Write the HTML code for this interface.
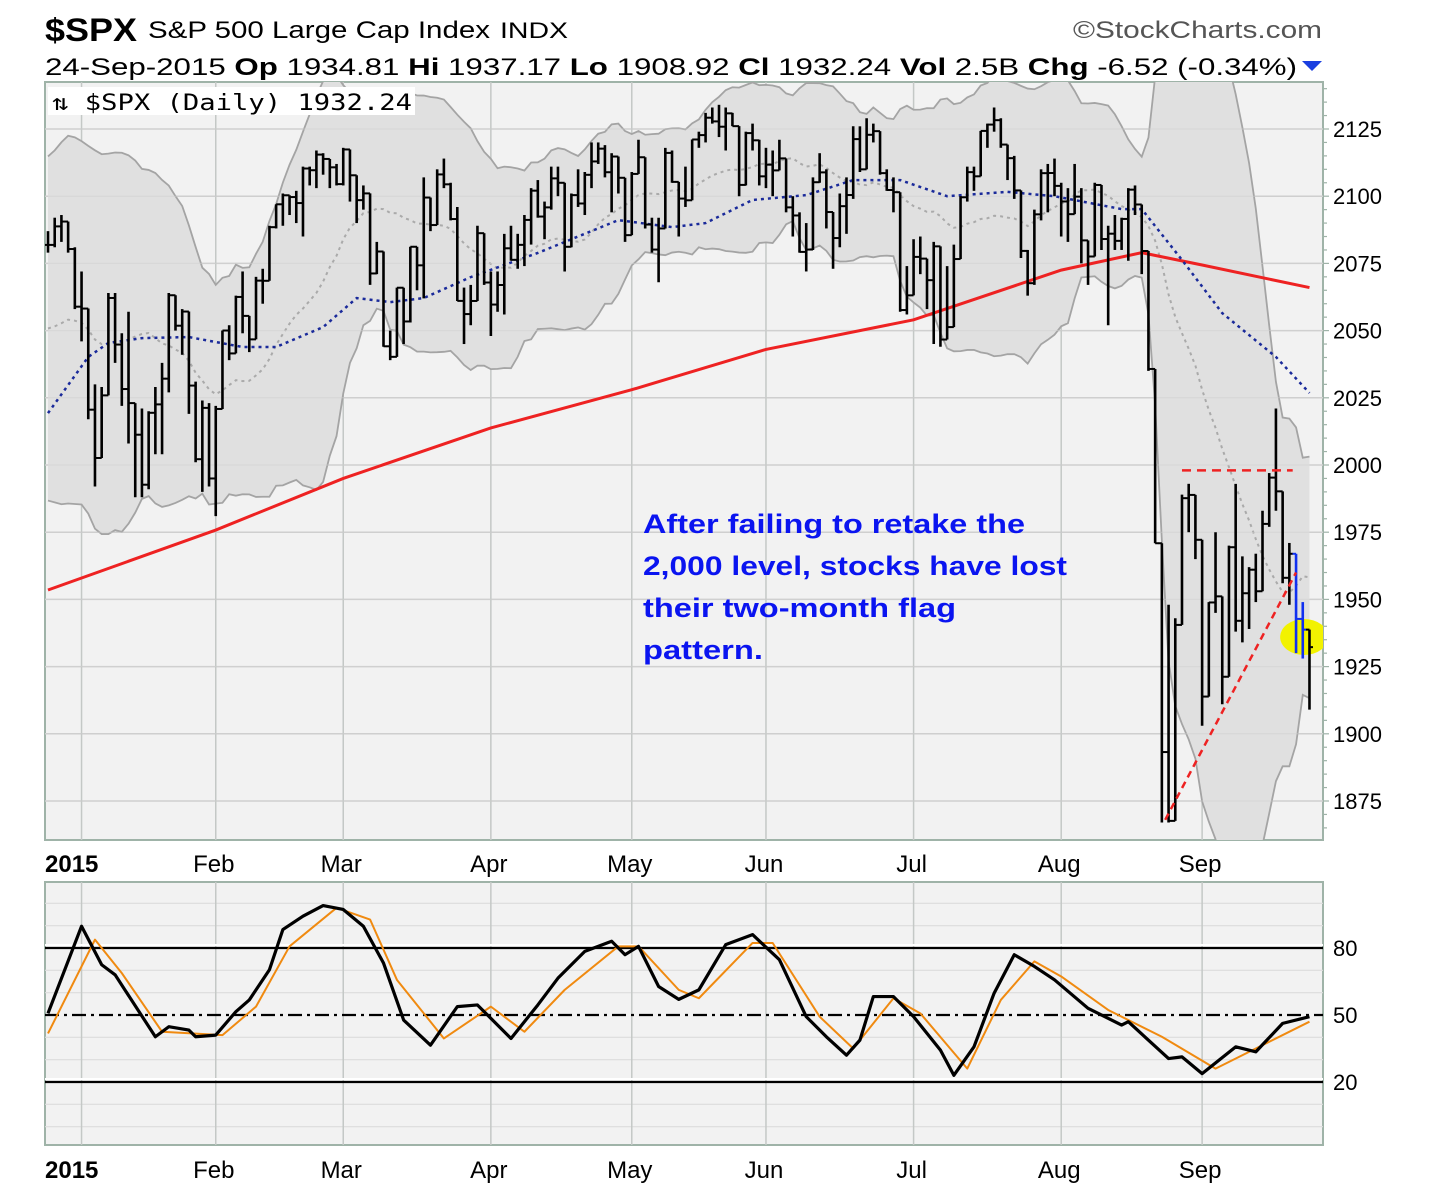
<!DOCTYPE html>
<html><head><meta charset="utf-8"><style>
body{margin:0;background:#fff}
svg{display:block;font-family:"Liberation Sans",sans-serif}
</style></head><body>
<svg id="chart" width="1444" height="1192" viewBox="0 0 1444 1192" xmlns="http://www.w3.org/2000/svg">
<defs>
<clipPath id="cp1"><rect x="45" y="82" width="1278" height="758"/></clipPath>
<clipPath id="cp2"><rect x="45" y="882" width="1278" height="263"/></clipPath>
</defs>
<rect width="1444" height="1192" fill="#fff"/>
<g>
<text x="45" y="41" font-size="32" font-weight="bold" textLength="92" lengthAdjust="spacingAndGlyphs">$SPX</text>
<text x="148" y="38" font-size="24" textLength="342" lengthAdjust="spacingAndGlyphs">S&amp;P 500 Large Cap Index</text>
<text x="500" y="38" font-size="22" textLength="68" lengthAdjust="spacingAndGlyphs">INDX</text>
<text x="1073" y="38" font-size="24" fill="#555" textLength="249" lengthAdjust="spacingAndGlyphs">©StockCharts.com</text>
<text x="45" y="75" font-size="24" textLength="1252" lengthAdjust="spacingAndGlyphs">24-Sep-2015 <tspan font-weight="bold">Op</tspan> 1934.81 <tspan font-weight="bold">Hi</tspan> 1937.17 <tspan font-weight="bold">Lo</tspan> 1908.92 <tspan font-weight="bold">Cl</tspan> 1932.24 <tspan font-weight="bold">Vol</tspan> 2.5B <tspan font-weight="bold">Chg</tspan> -6.52 (-0.34%)</text>
<polygon points="1302,61 1322,61 1312,71" fill="#1a3fe0"/>
</g>
<rect x="45" y="82" width="1278" height="758" fill="#f2f2f2" stroke="#9fb3a8" stroke-width="2"/>
<rect x="45" y="882" width="1278" height="263" fill="#f2f2f2" stroke="#9fb3a8" stroke-width="2"/>
<g id="g1" clip-path="url(#cp1)"></g>
<g id="g2" clip-path="url(#cp2)"></g>
<g id="gx"></g>
<rect x="48" y="87" width="367" height="28" fill="#fff"/>
<text x="52" y="110" font-size="22" font-family="'DejaVu Sans Mono','Liberation Mono',monospace" textLength="360" lengthAdjust="spacingAndGlyphs">⇅ $SPX (Daily) 1932.24</text>
<g font-size="27" font-weight="bold" fill="#0a14f0">
<text x="643" y="533" textLength="382" lengthAdjust="spacingAndGlyphs">After failing to retake the</text>
<text x="643" y="575" textLength="424" lengthAdjust="spacingAndGlyphs">2,000 level, stocks have lost</text>
<text x="643" y="617" textLength="313" lengthAdjust="spacingAndGlyphs">their two-month flag</text>
<text x="643" y="659" textLength="120" lengthAdjust="spacingAndGlyphs">pattern.</text>
</g>
</svg>
<script>
const priorCloses=[2072.83,2067.56,2053.44,2066.55,2074.33,2071.92,2075.37,2060.31,2059.82,2026.14,2035.33,2002.33,1989.63,1972.74,2012.89,2061.23,2070.65,2078.54,2082.17];
const closes=[2081.88,2088.77,2090.57,2080.35,2058.90,
2058.20,2020.58,2002.61,2025.90,2062.14,2044.81,2028.26,2023.03,2011.27,1992.67,2019.42,2022.55,2032.12,2063.15,2051.82,2057.09,2029.55,2002.16,2021.25,1994.99,
2020.85,2050.03,2041.51,2062.52,2055.47,2046.74,2068.59,2068.53,2088.48,2096.99,2100.34,2099.68,2097.45,2110.30,2109.66,2115.48,2113.86,2110.74,2104.50,
2117.39,2107.78,2098.53,2101.04,2071.26,2079.43,2044.16,2040.24,2065.95,2053.40,2081.19,2074.28,2099.50,2089.27,2108.10,2104.42,2091.50,2061.05,2056.15,2061.02,2086.24,2067.89,
2059.69,2066.96,2080.62,2076.33,2081.90,2091.18,2102.06,2092.43,2095.84,2106.63,2104.99,2081.18,2100.40,2097.29,2107.96,2112.93,2117.69,2108.92,2114.76,2106.85,2085.51,
2108.29,2114.49,2089.46,2080.15,2088.00,2116.10,2105.33,2099.12,2098.48,2121.10,2122.73,2129.20,2127.83,2125.85,2130.82,2126.06,2104.20,2123.48,2120.79,2107.39,
2111.73,2109.60,2114.07,2095.84,2092.83,2079.28,2080.15,2105.20,2108.86,2094.11,2084.43,2096.29,2100.44,2121.24,2109.99,2122.85,2124.20,2108.58,2102.31,2101.49,2057.64,2063.11,
2077.42,2076.78,2068.76,2081.34,2046.68,2051.31,2076.62,2099.60,2108.95,2107.40,2124.29,2126.64,2128.28,2119.21,2114.15,2102.15,2079.65,2067.64,2093.25,2108.57,2108.63,2103.84,
2098.04,2093.32,2099.84,2083.56,2077.57,2104.18,2084.07,2086.05,2083.39,2091.54,2102.44,2096.92,2079.61,2035.73,1970.89,1893.21,1867.61,1940.51,1987.66,1988.87,1972.18,
1913.85,1948.86,1951.13,1921.22,1969.41,1942.04,1952.29,1961.05,1953.03,1978.09,1995.31,1990.20,1958.03,1966.97,1942.74,1938.76,1932.24];
const highs=[2087,2092,2093,2088,2081,
2072,2054,2030,2029,2064,2064,2049,2057,2018,2021,2020,2029,2038,2064,2062,2058,2047,2031,2024,2023,
2022,2050,2052,2063,2072,2055,2070,2073,2089,2097,2101,2100,2102,2111,2111,2117,2116,2113,2112,
2118,2115,2105,2104,2100,2083,2074,2050,2066,2065,2081,2080,2107,2098,2110,2114,2105,2096,2066,2067,2089,2086,
2072,2072,2086,2089,2086,2093,2103,2106,2098,2111,2111,2095,2101,2110,2109,2120,2120,2119,2116,2114,2105,
2109,2121,2114,2092,2092,2118,2117,2105,2111,2121,2124,2131,2133,2134,2133,2131,2126,2124,2127,2121,
2118,2117,2121,2113,2100,2094,2090,2107,2116,2110,2094,2101,2107,2126,2126,2129,2127,2124,2110,2107,2097,2074,
2084,2085,2075,2083,2077,2074,2082,2100,2111,2111,2124,2127,2133,2129,2119,2115,2102,2080,2095,2110,2112,2114,
2105,2103,2112,2103,2082,2105,2103,2089,2093,2092,2103,2104,2094,2073,2030,1965,1948,1943,1989,1993,1986,
1954,1949,1975,1936,1970,1993,1966,1962,1967,1983,1997,2021,1990,1971,1953,1949,1937];
const lows=[2079,2081,2083,2079,2058,
2046,2017,1992,2005,2026,2038,2022,2008,1988,1988,1991,2004,2004,2027,2050,2041,2019,2001,1990,1992,
1981,2021,2039,2043,2049,2042,2049,2060,2070,2088,2089,2093,2090,2085,2104,2103,2108,2103,2104,
2104,2098,2090,2095,2067,2071,2044,2039,2041,2045,2053,2065,2062,2087,2092,2103,2091,2061,2045,2052,2062,2067,
2048,2057,2056,2076,2073,2074,2082,2092,2084,2095,2100,2072,2081,2096,2093,2103,2112,2107,2094,2101,2083,
2086,2109,2088,2079,2068,2091,2105,2085,2096,2100,2118,2120,2127,2122,2117,2127,2100,2104,2117,2104,
2103,2100,2110,2094,2085,2079,2072,2080,2105,2088,2073,2081,2086,2099,2109,2111,2120,2108,2102,2094,2057,2056,
2067,2071,2058,2045,2044,2052,2064,2082,2098,2102,2108,2118,2124,2118,2106,2099,2077,2063,2067,2091,2094,2100,
2085,2083,2095,2075,2067,2079,2080,2052,2080,2080,2076,2093,2071,2035,1971,1867,1867,1872,1943,1975,1965,
1903,1917,1945,1911,1945,1938,1934,1939,1949,1954,1977,1983,1956,1948,1930,1928,1909];
const ma200Idx=[0,25,44,66,87,107,129,151,163,172,188];
const ma200Val=[1953.5,1975.8,1995,2013.8,2028,2043,2054,2072.5,2079,2074.4,2066];
const ma50Idx=[0,6,9,14,21,29,34,41,46,51,56,63,73,85,93,98,105,113,120,127,134,143,150,160,163,169,175,183,188];
const ma50Val=[2019.3,2040.2,2045.4,2047.2,2047.6,2043.9,2043.9,2051.3,2062.1,2060.6,2062.1,2069.9,2078.9,2091.1,2088.5,2090,2098.6,2100.4,2106,2106,2100,2101.6,2100,2095.2,2095.2,2076.3,2056.5,2040.2,2026.8];
const stochKIdx=[0,5,8,10,16,18,21,22,25,28,30,33,35,38,41,44,47,50,53,57,61,64,69,73,76,80,84,86,88,91,94,97,101,105,109,113,116,119,121,123,126,129,133,135,138,141,144,147,150,155,160,161,167,169,172,177,180,184,188];
const stochKVal=[50.75,89.75,72.5,68,40.25,44.75,43.25,40.25,41,51.5,56.75,70.25,88.25,94.25,99,97.25,89.75,73.25,47.75,36.5,53.75,54.5,39.5,54.5,66.5,78.5,83,77,80.75,62.75,57,61.25,81.5,86,74.75,49.25,40.25,32,38.75,58.25,58.25,49.25,34.25,23,35.75,59.75,77,71.75,65.75,53,45.5,47,30.5,31.25,23.75,35.75,33.5,46.25,49.25];
const stochDIdx=[0,7,11,17,26,31,36,43,48,52,59,66,71,77,85,88,94,97,105,108,115,120,126,130,137,142,147,151,158,166,174,180,188];
const stochDVal=[41.75,83.75,68.75,42.5,41,53.75,80.75,98,92.75,65.75,39.5,53.75,42.5,61.25,80.75,80.75,61.25,57.5,82.25,82.25,49.25,35,57.5,50.75,26,56.75,74,67.25,52.25,40.25,26,35,47];
const priceTicks=[2125,2100,2075,2050,2025,2000,1975,1950,1925,1900,1875];
const stochTicks=[80,50,20];
const monthIdx=[5,25,44,66,87,107,129,151,172];
const monthLabels=["2015","Feb","Mar","Apr","May","Jun","Jul","Aug","Sep"];
const flagTopIdx=[169,185.5];const flagTopVal=[1998,1998];
const flagBotIdx=[166.5,186];const flagBotVal=[1868,1960];
const highlightIdx=[186,187];

const NS="http://www.w3.org/2000/svg";
const X=i=>48+i*6.71;
const YP=p=>129+(2125-p)*2.688;
const YS=v=>1015-(v-50)*2.2333;
function mk(tag,attrs,parent){const e=document.createElementNS(NS,tag);for(const k in attrs)e.setAttribute(k,attrs[k]);parent.appendChild(e);return e;}
const g1=document.getElementById('g1'),g2=document.getElementById('g2'),gx=document.getElementById('gx');

// grid price
for(let p=2150;p>=1850;p-=25){const l=mk('line',{x1:45,x2:1323,y1:YP(p),y2:YP(p),stroke:'#d0d0d0','stroke-width':1.5},g1);

}
for(let v=0;v<=110;v+=10){if(v==20||v==50||v==80)continue;const l=mk('line',{x1:45,x2:1323,y1:YS(v),y2:YS(v),stroke:'#dcdcdc','stroke-width':1.2},g2);

}
monthIdx.forEach(i=>{[g1,g2].forEach(g=>{const l=mk('line',{x1:X(i),x2:X(i),y1:80,y2:1150,stroke:'#c4c8c6','stroke-width':1.5},g);

});});

// bollinger
const all=priorCloses.concat(closes),off=priorCloses.length;
const up=[],lo=[],mid=[];
for(let i=0;i<closes.length;i++){const w=all.slice(i+off-19,i+off+1);const m=w.reduce((a,b)=>a+b,0)/w.length;const sd=Math.sqrt(w.reduce((a,b)=>a+(b-m)*(b-m),0)/w.length);mid.push(m);up.push(m+2*sd);lo.push(m-2*sd);}
let d='M'+closes.map((c,i)=>X(i)+','+YP(up[i])).join(' L')+' L'+closes.map((c,i)=>X(i)+','+YP(lo[i])).reverse().join(' L')+'Z';
const band=mk('path',{d:d,fill:'#e0e0e0',stroke:'none'},g1);


[up,lo].forEach(a=>{const pl=mk('polyline',{points:a.map((v,i)=>X(i)+','+YP(v)).join(' '),fill:'none',stroke:'#a4a4a4','stroke-width':1.8},g1);

});
const midl=mk('polyline',{points:mid.map((v,i)=>X(i)+','+YP(v)).join(' '),fill:'none',stroke:'#aaa','stroke-width':2,'stroke-dasharray':'3,4'},g1);


// grid over band lightly
for(let p=2150;p>=1850;p-=25){const l=mk('line',{x1:45,x2:1323,y1:YP(p),y2:YP(p),stroke:'#cfcfcf','stroke-width':1,'stroke-opacity':0.6},g1);

}

// MAs
const m200=mk('polyline',{points:ma200Idx.map((i,k)=>X(i)+','+YP(ma200Val[k])).join(' '),fill:'none',stroke:'#ee2222','stroke-width':3},g1);


const m50=mk('polyline',{points:ma50Idx.map((i,k)=>X(i)+','+YP(ma50Val[k])).join(' '),fill:'none',stroke:'#1a2a9a','stroke-width':2.5,'stroke-dasharray':'3,4'},g1);



// highlight ellipse
const ell=mk('ellipse',{cx:X(187.5)-2,cy:YP(1936),rx:24,ry:18,fill:'#f2f200'},g1);



// bars
closes.forEach((c,i)=>{const o=i>0?closes[i-1]:c;const h=Math.max(highs[i]!==undefined?highs[i]:c,o,c);const l=Math.min(lows[i]!==undefined?lows[i]:c,o,c);
const col=highlightIdx.includes(i)?'#1030f0':'#000';const x=X(i);
const g=mk('g',{},g1);


mk('line',{x1:x,x2:x,y1:YP(h),y2:YP(l),stroke:col,'stroke-width':2.6},g);
mk('line',{x1:x-3.5,x2:x,y1:YP(o),y2:YP(o),stroke:col,'stroke-width':2},g);
mk('line',{x1:x,x2:x+3.5,y1:YP(c),y2:YP(c),stroke:col,'stroke-width':2},g);});

// flag lines
const ft=mk('line',{x1:X(flagTopIdx[0]),x2:X(flagTopIdx[1]),y1:YP(flagTopVal[0]),y2:YP(flagTopVal[1]),stroke:'#ee2222','stroke-width':2.5,'stroke-dasharray':'9,6'},g1);


const fb=mk('line',{x1:X(flagBotIdx[0]),x2:X(flagBotIdx[1]),y1:YP(flagBotVal[0]),y2:YP(flagBotVal[1]),stroke:'#ee2222','stroke-width':2.5,'stroke-dasharray':'7,5'},g1);



// stoch ref lines
[[80,'none'],[20,'none'],[50,'14,5,3,5']].forEach(([v,da])=>{const l=mk('line',{x1:45,x2:1323,y1:YS(v),y2:YS(v),stroke:'#000','stroke-width':2.2,'stroke-dasharray':da},g2);


if(v!=50){const w=mk('line',{x1:45,x2:1323,y1:YS(v)-3,y2:YS(v)-3,stroke:'#fff','stroke-width':2},g2);

}});
const sd=mk('polyline',{points:stochDIdx.map((i,k)=>X(i)+','+YS(stochDVal[k])).join(' '),fill:'none',stroke:'#f08a10','stroke-width':2,'stroke-linejoin':'round'},g2);


const sk=mk('polyline',{points:stochKIdx.map((i,k)=>X(i)+','+YS(stochKVal[k])).join(' '),fill:'none',stroke:'#000','stroke-width':3.2,'stroke-linejoin':'round'},g2);



// axes labels
priceTicks.forEach(p=>{const t=mk('text',{x:1333,y:YP(p)+8,'font-size':22},gx);t.textContent=p;

});
for(let p=2150;p>=1850;p-=5){const y=YP(p);if(y<84||y>838)continue;const tk=mk('line',{x1:1323,x2:p%25==0?1329:1327,y1:y,y2:y,stroke:'#9fb3a8','stroke-width':1.2},gx);

}
stochTicks.forEach(v=>{const t=mk('text',{x:1333,y:YS(v)+8,'font-size':22},gx);t.textContent=v;

});
[872,1178].forEach(by=>{monthIdx.forEach((i,k)=>{const isY=k==0;const t=mk('text',{x:isY?45:X(i)-2,y:by,'font-size':24,'text-anchor':isY?'start':'middle','font-weight':isY?'bold':'normal'},gx);t.textContent=monthLabels[k];

});});
</script>
</body></html>
